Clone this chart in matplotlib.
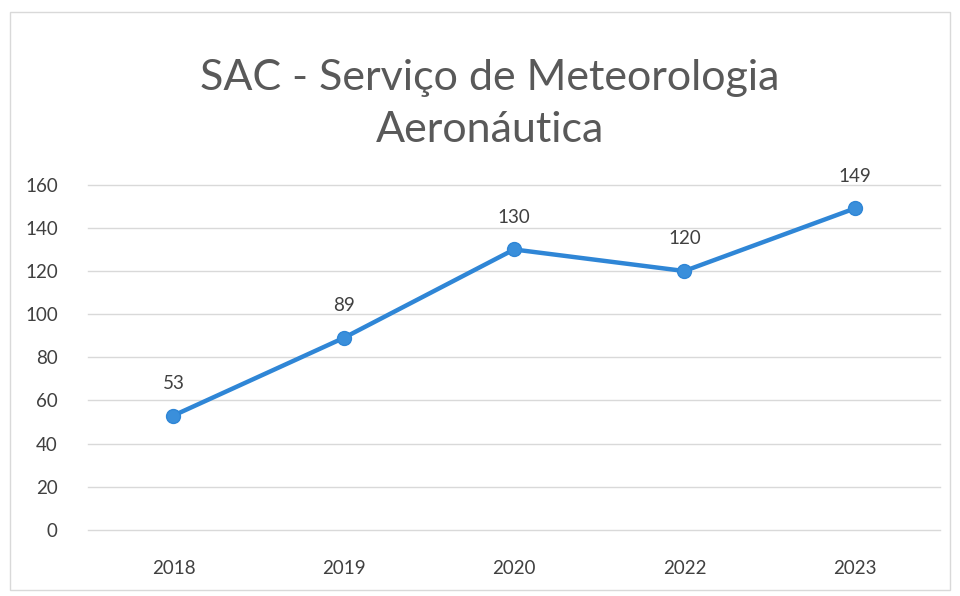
import matplotlib.pyplot as plt

# data
years = ['2018', '2019', '2020', '2022', '2023']
values = [53, 89, 130, 120, 149]
y_ticks = [0, 20, 40, 60, 80, 100, 120, 140, 160]

plt.rcParams['font.family'] = ['Lato', 'DejaVu Sans']

fig = plt.figure(figsize=(9.6, 5.96), dpi=100)
ax = fig.add_axes([0.092, 0.111, 0.887, 0.579])

x = list(range(len(years)))
ax.plot(x, values, color='#2F86D6', linewidth=3.2, marker='o', markersize=10,
        markerfacecolor='#3A8FDB', markeredgecolor='#2F86D6', zorder=3)

for xi, v in zip(x, values):
    ax.annotate(str(v), (xi, v), xytext=(0, 17), textcoords='offset points',
                ha='center', va='bottom', fontsize=13.5, color='#404040')

ax.set_xlim(-0.5, len(years) - 0.5)
ax.set_ylim(0, 160)
ax.set_yticks(y_ticks)
ax.set_xticks(x)
ax.set_xticklabels(years)
ax.grid(axis='y', color='#d9d9d9', linewidth=1)
for gl in ax.get_ygridlines():
    gl.set_clip_on(False)
ax.set_axisbelow(True)
ax.tick_params(length=0, labelsize=13.5, labelcolor='#404040')
ax.tick_params(axis='x', pad=22)
ax.tick_params(axis='y', pad=22)
for s in ax.spines.values():
    s.set_visible(False)

fig.text(0.51, 0.825, 'SAC - Serviço de Meteorologia\nAeronáutica', ha='center',
         va='center', fontsize=31, color='#595959', linespacing=1.45)

# faint chart border
fig.patches.append(plt.Rectangle((0.01, 0.01), 0.98, 0.97, transform=fig.transFigure,
                                 fill=False, edgecolor='#d9d9d9', linewidth=1))

fig.savefig('out.png', dpi=100, facecolor='white')
